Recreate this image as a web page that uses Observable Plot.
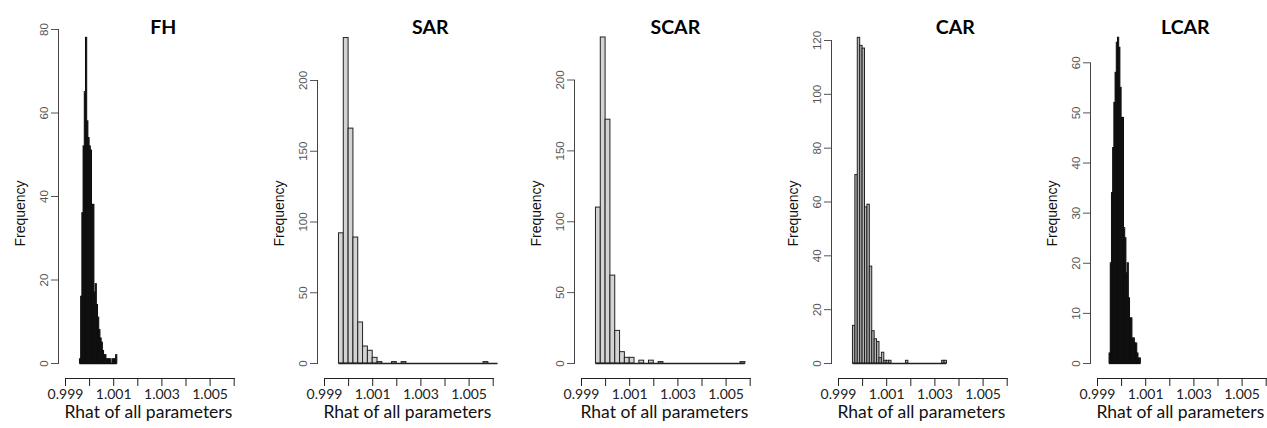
<!DOCTYPE html>
<html><head><meta charset="utf-8">
<script src="https://cdn.jsdelivr.net/npm/d3@7"></script>
<script src="https://cdn.jsdelivr.net/npm/@observablehq/plot@0.6"></script>
<style>
html,body{margin:0;padding:0;background:#fff;overflow:hidden}
#wrap{position:relative;width:1267px;height:428px;overflow:hidden;background:#fff}
.panel{position:absolute;top:0;width:240px;height:428px}
.panel svg{max-width:none !important}
</style></head><body><div id="wrap"></div>
<script>
// ---- data ----
const panelNames = ["FH", "SAR", "SCAR", "CAR", "LCAR"];
const binStart = [0.9996, 0.9996, 0.9996, 0.9996, 0.9995];
const binWidth = [0.00005, 0.0002, 0.0002, 0.0001, 0.00005];

const countsFH = [1, 16, 36, 52, 65, 78, 58, 54, 52, 51, 38, 38, 17, 19, 14, 11, 8, 6, 5, 3, 2, 2, 1, 1, 1, 1, 0, 1, 1, 1, 2];
const countsSAR = [92, 230, 166, 89, 29, 12, 9, 4, 1, 0, 0, 1, 0, 1, 0, 0, 0, 0, 0, 0, 0, 0, 0, 0, 0, 0, 0, 0, 0, 0, 1, 0, 0];
const countsSCAR = [110, 230, 172, 62, 23, 8, 4, 4, 0, 2, 0, 2, 0, 1, 0, 0, 0, 0, 0, 0, 0, 0, 0, 0, 0, 0, 0, 0, 0, 0, 1];
const countsCAR = [14, 70, 121, 118, 117, 58, 59, 36, 12, 9, 8, 2, 4, 1, 1, 1, 0, 0, 0, 0, 0, 0, 1, 0, 0, 0, 0, 0, 0, 0, 0, 0, 0, 0, 0, 0, 0, 1, 1];
const countsLCAR = [2, 20, 34, 43, 52, 58, 64, 65, 63, 55, 49, 49, 27, 25, 18, 20, 13, 9, 9, 5, 5, 4, 4, 2, 1, 1];

const yTicksFH = [0, 20, 40, 60, 80];
const yTicksSAR = [0, 50, 100, 150, 200];
const yTicksSCAR = [0, 50, 100, 150, 200];
const yTicksCAR = [0, 20, 40, 60, 80, 100, 120];
const yTicksLCAR = [0, 10, 20, 30, 40, 50, 60];

const xTicks = [0.999, 1.000, 1.001, 1.002, 1.003, 1.004, 1.005, 1.006];
const xTickLabels = ["0.999", "", "1.001", "", "1.003", "", "1.005", ""];

const yLabel = "Frequency";
const xLabel = "Rhat of all parameters";

const allCounts = [countsFH, countsSAR, countsSCAR, countsCAR, countsLCAR];
const allYTicks = [yTicksFH, yTicksSAR, yTicksSCAR, yTicksCAR, yTicksLCAR];

// ---- layout / style ----
const layout = [
  {left: 0,     marginTop: 29,   titleDx: 17, fill: "#1c1c1c", stroke: "#0d0d0d"},
  {left: 258.7, marginTop: 80,   titleDx: 25, fill: "#d3d3d3", stroke: "#222"},
  {left: 516.3, marginTop: 79.5, titleDx: 13, fill: "#d3d3d3", stroke: "#222"},
  {left: 772.7, marginTop: 40,   titleDx: 36, fill: "#b4b4b4", stroke: "#222"},
  {left: 1032,  marginTop: 62.3, titleDx: 7,  fill: "#1c1c1c", stroke: "#0d0d0d"}
];

const labeledTicks = xTicks.filter((t, i) => xTickLabels[i] !== "");
const labelOf = new Map(xTicks.map((t, i) => [t.toFixed(3), xTickLabels[i]]));
const wrap = document.getElementById("wrap");

panelNames.forEach((name, p) => {
  const L = layout[p];
  const counts = allCounts[p];
  const yTicks = allYTicks[p];
  const bins = counts.map((c, i) => ({
    x1: binStart[p] + i * binWidth[p],
    x2: binStart[p] + (i + 1) * binWidth[p],
    count: c
  }));
  const span = [{x1: bins[0].x1, x2: bins[bins.length - 1].x2}];

  const chart = Plot.plot({
    width: 240,
    height: 428,
    marginLeft: 58,
    marginRight: 6.3,
    marginTop: L.marginTop,
    marginBottom: 50,
    x: {domain: [0.999, 1.006], insetLeft: 7},
    y: {domain: [0, yTicks[yTicks.length - 1]], insetBottom: 15},
    style: {background: "white", overflow: "visible", fontFamily: "'Liberation Sans', Arial, sans-serif"},
    marks: [
      Plot.frame({anchor: "left", insetBottom: 15, stroke: "#444", strokeWidth: 1}),
      Plot.frame({anchor: "bottom", insetLeft: 7, stroke: "#222", strokeWidth: 1}),
      Plot.axisY({ticks: yTicks, tickSize: 7, tickRotate: -90, tickPadding: 4, label: null,
                  fontSize: 11.5, color: "#555"}),
      Plot.axisX({ticks: xTicks, tickSize: 8, label: null, stroke: "#222", fill: "none"}),
      Plot.axisX({ticks: labeledTicks, tickSize: 0, tickPadding: 11, label: null,
                  tickFormat: d => labelOf.get(d.toFixed(3)),
                  fontSize: 14, fontFamily: "Lato, 'Open Sans', sans-serif", fill: "#222"}),
      Plot.rectY(bins.filter(d => d.count > 0), {
        x1: "x1", x2: "x2", y: "count",
        fill: L.fill, stroke: L.stroke, strokeWidth: 1
      }),
      Plot.ruleY(span, {y: 0, x1: "x1", x2: "x2", stroke: L.stroke, strokeWidth: 1.3}),
      Plot.text([name], {frameAnchor: "top", dx: L.titleDx, dy: 20 - L.marginTop,
                         fontSize: 19.5, fontWeight: "bold", fontFamily: "Lato, sans-serif", fill: "#000"}),
      Plot.text([yLabel], {frameAnchor: "top-left", textAnchor: "middle", dx: -43, dy: 213 - L.marginTop,
                           rotate: -90, fontSize: 14, fill: "#111"}),
      Plot.text([xLabel], {frameAnchor: "bottom", dx: 2, dy: 39,
                           fontSize: 17.5, fontFamily: "Lato, sans-serif", fill: "#111"})
    ]
  });
  const div = document.createElement("div");
  div.className = "panel";
  div.style.left = L.left + "px";
  div.appendChild(chart);
  wrap.appendChild(div);
});
</script>
</body></html>
